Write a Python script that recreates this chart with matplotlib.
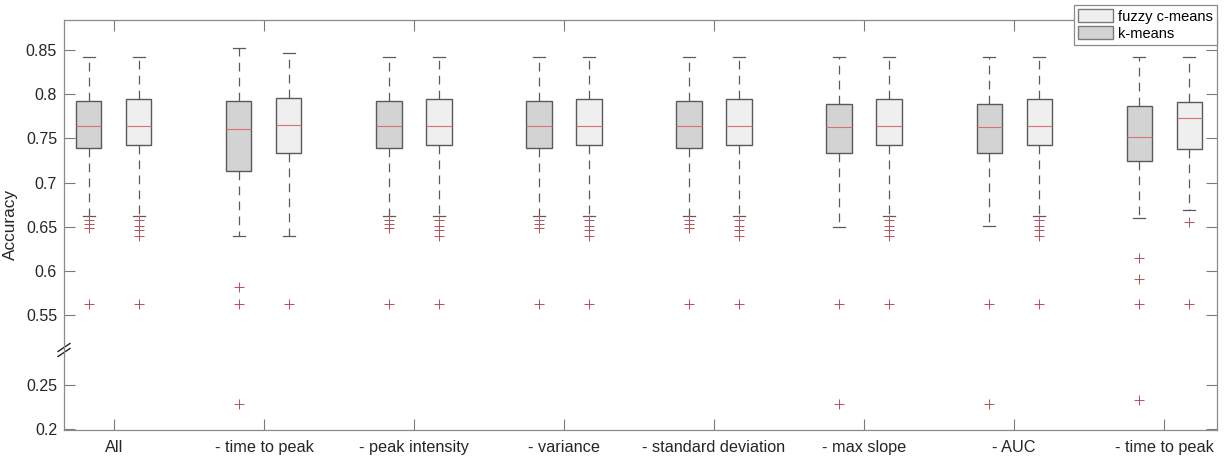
import numpy as np
import matplotlib.pyplot as plt
from matplotlib.patches import Patch
from matplotlib.ticker import FixedLocator, FuncFormatter

groups = ["All", "- time to peak", "- peak intensity", "- variance",
          "- standard deviation", "- max slope", "- AUC", "- time to peak"]

# k-means summary stats per feature set
km_q1 = [0.739, 0.713, 0.739, 0.739, 0.739, 0.733, 0.733, 0.724]
km_med = [0.764, 0.761, 0.764, 0.764, 0.764, 0.763, 0.763, 0.751]
km_q3 = [0.792, 0.792, 0.792, 0.792, 0.792, 0.789, 0.789, 0.787]
km_lo = [0.662, 0.640, 0.662, 0.662, 0.662, 0.650, 0.651, 0.660]
km_hi = [0.842, 0.852, 0.842, 0.842, 0.842, 0.842, 0.842, 0.842]
km_out = [[0.657, 0.653, 0.649, 0.563],
          [0.582, 0.563, 0.229],
          [0.657, 0.653, 0.649, 0.563],
          [0.657, 0.653, 0.649, 0.563],
          [0.657, 0.653, 0.649, 0.563],
          [0.563, 0.229],
          [0.563, 0.229],
          [0.615, 0.591, 0.563, 0.233]]

# fuzzy c-means summary stats per feature set
fcm_q1 = [0.742, 0.733, 0.742, 0.742, 0.742, 0.742, 0.742, 0.738]
fcm_med = [0.764, 0.765, 0.764, 0.764, 0.764, 0.764, 0.764, 0.773]
fcm_q3 = [0.795, 0.796, 0.795, 0.795, 0.795, 0.795, 0.795, 0.791]
fcm_lo = [0.662, 0.640, 0.662, 0.662, 0.662, 0.662, 0.662, 0.669]
fcm_hi = [0.842, 0.847, 0.842, 0.842, 0.842, 0.842, 0.842, 0.842]
fcm_out = [[0.657, 0.651, 0.646, 0.640, 0.563],
           [0.563],
           [0.657, 0.651, 0.646, 0.640, 0.563],
           [0.657, 0.651, 0.646, 0.640, 0.563],
           [0.657, 0.651, 0.646, 0.640, 0.563],
           [0.657, 0.651, 0.646, 0.640, 0.563],
           [0.657, 0.651, 0.646, 0.640, 0.563],
           [0.655, 0.563]]

ytick_vals = [0.2, 0.25, 0.55, 0.6, 0.65, 0.7, 0.75, 0.8, 0.85]

plt.rcParams["font.family"] = ["Liberation Sans", "DejaVu Sans"]

# broken y axis: values below LO are shifted up to sit just under HI
LO, HI = 0.2896, 0.5104
OFF = HI - LO


def fwd(y):
    y = np.asarray(y, dtype=float)
    return np.where(y >= HI, y, np.where(y <= LO, y + OFF, HI))


def inv(d):
    d = np.asarray(d, dtype=float)
    return np.where(d >= HI, d, d - OFF)


def stats(q1, med, q3, lo, hi, out):
    return [dict(q1=a, med=b, q3=c, whislo=d, whishi=e, fliers=f)
            for a, b, c, d, e, f in zip(q1, med, q3, lo, hi, out)]


fig = plt.figure(figsize=(12.25, 4.58), dpi=100)
ax = fig.add_axes([64 / 1225, 1 - 430 / 458, 1153 / 1225, 410 / 458])
ax.set_yscale("function", functions=(fwd, inv))

edge = "#5a5a5a"
x = np.arange(1, len(groups) + 1)
common = dict(
    widths=0.167,
    whiskerprops=dict(color=edge, linestyle=(0, (7, 5)), linewidth=0.9),
    capprops=dict(color=edge, linewidth=0.9),
    medianprops=dict(color="#d87078", linewidth=0.8),
    flierprops=dict(marker="+", markeredgecolor="#b8505a", markersize=7,
                    markeredgewidth=0.7, linestyle="none"),
    patch_artist=True,
    manage_ticks=False,
)
km = ax.bxp(stats(km_q1, km_med, km_q3, km_lo, km_hi, km_out),
            positions=x - 1 / 6,
            boxprops=dict(facecolor="#d3d3d3", edgecolor=edge, linewidth=1.0),
            **common)
fcm = ax.bxp(stats(fcm_q1, fcm_med, fcm_q3, fcm_lo, fcm_hi, fcm_out),
             positions=x + 1 / 6,
             boxprops=dict(facecolor="#efefef", edgecolor=edge, linewidth=1.0),
             **common)

ax.set_xlim(0.667, 8.353)
ax.set_ylim(0.199, 0.884)
ax.set_xticks(x)
ax.set_xticklabels(groups, fontsize=11.7, color="#262626")
ax.yaxis.set_major_locator(FixedLocator(ytick_vals))
ax.yaxis.set_major_formatter(FuncFormatter(lambda v, p: f"{v:g}"))
ax.yaxis.set_minor_locator(FixedLocator([]))
ax.tick_params(axis="y", labelsize=11.5, labelcolor="#262626", pad=5)
ax.tick_params(axis="x", pad=7)
ax.tick_params(direction="in", length=8, width=0.8, color="#7a7a7a",
               top=True, right=True)
for s in ax.spines.values():
    s.set_color("#8a8a8a")
    s.set_linewidth(0.9)
ax.set_ylabel("Accuracy", fontsize=12.4, color="#262626", labelpad=6)

# break marks on the left spine
y0, y1 = fwd(0.199), fwd(0.884)
fb = (HI - y0) / (y1 - y0)
dx, dy = 6 / 1153, 4 / 410
for k in (-1, 1):
    ax.plot([-dx, dx], [fb + k * 2.5 / 410 - dy, fb + k * 2.5 / 410 + dy],
            transform=ax.transAxes, color="#222222", linewidth=1.0,
            clip_on=False)

handles = [Patch(facecolor="#efefef", edgecolor="#7a7a7a", label="fuzzy c-means"),
           Patch(facecolor="#d3d3d3", edgecolor="#7a7a7a", label="k-means")]
leg = fig.legend(handles=handles, loc="upper right",
                 bbox_to_anchor=(1217 / 1225, 1 - 5 / 458), fontsize=10.5,
                 fancybox=False, framealpha=1, edgecolor="#8a8a8a",
                 borderpad=0.3, labelspacing=0.15, handlelength=2.4,
                 handleheight=1.0, handletextpad=0.3, borderaxespad=0)
leg.get_frame().set_linewidth(0.9)

fig.savefig("out.png", dpi=100)
